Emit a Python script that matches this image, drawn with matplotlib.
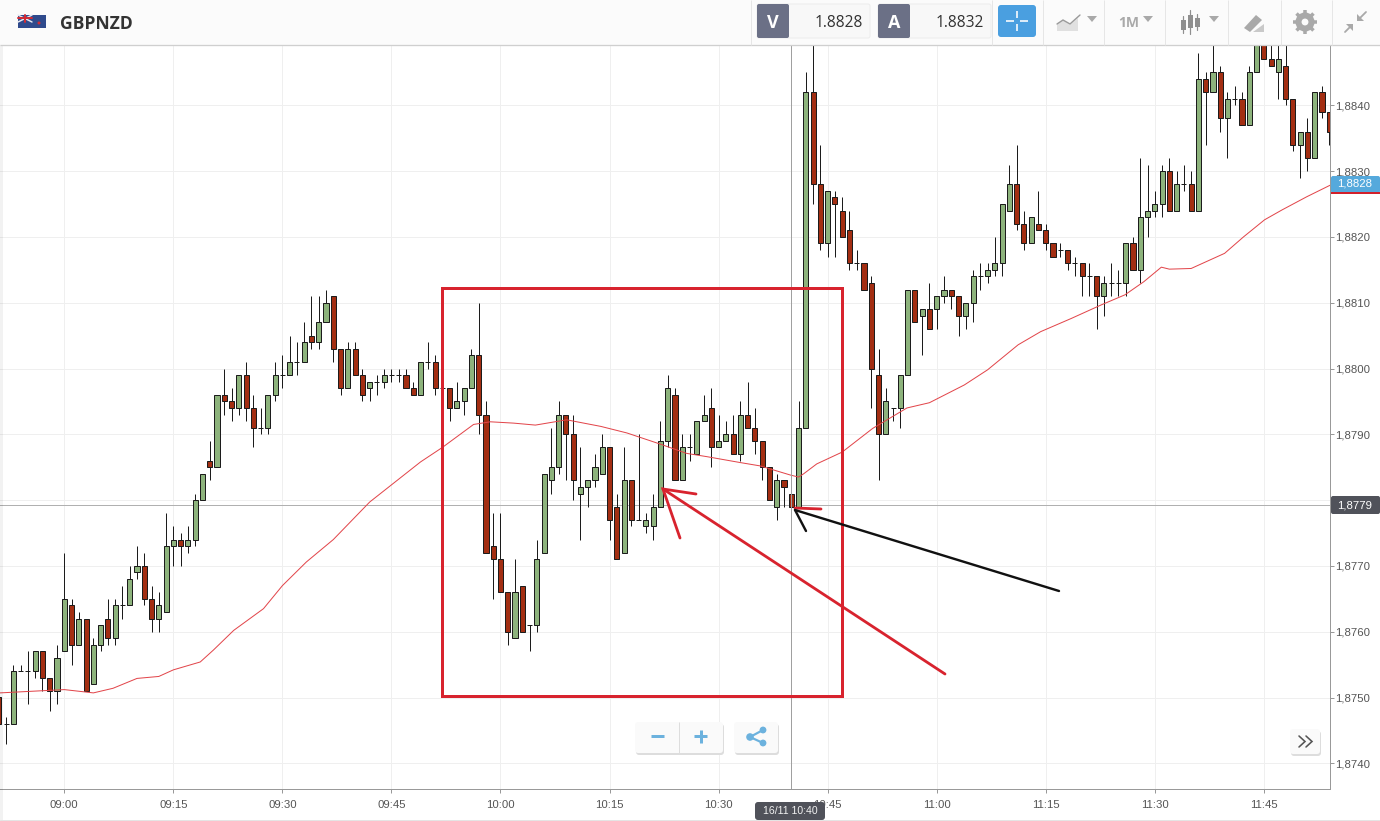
import numpy as np
import matplotlib
matplotlib.use("Agg")
import matplotlib.pyplot as plt
from matplotlib.patches import Rectangle, FancyBboxPatch, Polygon, Circle

# Candles, one per minute. Prices in 1/10000 above 1.0000 (8750 = 1,8750)
first_minute = -9  # minutes after 09:00
opens = [8750,8746,8746,8754,8754,8754,8757,8753,8751,8757,
         8764,8758,8762,8752,8758,8762,8759,8764,8764,8769,
         8770,8765,8762,8763,8773,8774,8773,8774,8780,8786,
         8785,8796,8795,8794,8799,8794,8791,8791,8796,8799,
         8799,8801,8801,8805,8804,8807,8811,8803,8797,8803,
         8799,8797,8798,8798,8799,8799,8799,8797,8796,8801,
         8801,8797,8797,8794,8795,8797,8802,8793,8773,8771,
         8766,8759,8767,8761,8761,8772,8783,8785,8793,8790,
         8781,8782,8783,8784,8788,8779,8772,8783,8777,8776,
         8776,8779,8789,8796,8783,8788,8787,8792,8794,8788,
         8789,8790,8787,8793,8791,8789,8785,8779,8783,8781,
         8779,8791,8842,8828,8819,8826,8824,8821,8816,8816,
         8813,8799,8790,8794,8794,8799,8812,8808,8809,8809,
         8811,8812,8811,8808,8810,8814,8814,8815,8816,8824,
         8828,8822,8819,8822,8821,8819,8818,8818,8816,8816,
         8814,8814,8811,8813,8813,8813,8819,8815,8823,8824,
         8825,8830,8824,8828,8828,8824,8844,8842,8845,8838,
         8841,8841,8837,8845,8851,8847,8845,8846,8841,8834,
         8836,8832,8842,8839]
highs = [8751,8747,8755,8755,8757,8757,8757,8753,8758,8772,
         8765,8763,8762,8759,8761,8765,8765,8767,8770,8773,
         8772,8767,8766,8778,8776,8775,8776,8781,8784,8789,
         8796,8800,8797,8799,8801,8796,8794,8796,8801,8802,
         8805,8804,8807,8811,8811,8812,8811,8803,8804,8804,
         8800,8798,8799,8800,8800,8800,8800,8798,8801,8804,
         8802,8797,8797,8798,8797,8803,8810,8795,8778,8778,
         8766,8771,8767,8761,8774,8784,8791,8795,8793,8793,
         8788,8783,8787,8790,8788,8781,8788,8783,8790,8778,
         8781,8792,8799,8797,8790,8790,8792,8796,8797,8793,
         8792,8793,8795,8798,8794,8789,8785,8784,8783,8781,
         8795,8845,8851,8834,8827,8827,8826,8824,8818,8816,
         8814,8803,8797,8794,8799,8812,8812,8809,8813,8811,
         8814,8812,8811,8810,8815,8816,8816,8820,8825,8831,
         8834,8824,8823,8827,8822,8819,8819,8818,8817,8816,
         8816,8814,8814,8816,8815,8819,8820,8832,8831,8827,
         8831,8832,8830,8831,8830,8848,8845,8850,8846,8842,
         8843,8842,8846,8852,8852,8850,8850,8850,8841,8836,
         8838,8842,8843,8839]
lows = [8745,8743,8746,8754,8749,8753,8751,8748,8749,8757,
        8755,8758,8751,8752,8757,8758,8758,8762,8764,8768,
        8764,8760,8760,8763,8770,8770,8772,8773,8780,8783,
        8785,8793,8792,8793,8792,8788,8790,8790,8795,8797,
        8799,8799,8801,8803,8803,8807,8801,8796,8797,8799,
        8795,8795,8796,8797,8798,8798,8797,8796,8796,8800,
        8796,8797,8792,8794,8793,8797,8790,8772,8765,8766,
        8758,8759,8760,8757,8760,8772,8781,8784,8783,8780,
        8774,8779,8782,8784,8774,8771,8772,8776,8777,8775,
        8774,8779,8788,8783,8783,8786,8787,8792,8785,8788,
        8789,8787,8786,8791,8787,8783,8780,8777,8779,8779,
        8779,8791,8825,8818,8817,8817,8820,8815,8815,8812,
        8794,8783,8790,8792,8791,8799,8807,8802,8806,8806,
        8810,8809,8805,8806,8807,8812,8813,8814,8814,8824,
        8821,8818,8819,8821,8818,8817,8817,8815,8814,8811,
        8811,8806,8808,8811,8811,8811,8815,8813,8820,8823,
        8823,8824,8824,8827,8824,8824,8834,8842,8836,8832,
        8840,8837,8837,8845,8847,8846,8841,8840,8833,8829,
        8830,8832,8838,8834]
closes = [8746,8746,8754,8754,8754,8757,8753,8751,8756,8765,
          8758,8762,8751,8758,8761,8759,8764,8764,8768,8770,
          8765,8762,8764,8773,8774,8773,8774,8780,8784,8785,
          8796,8795,8794,8799,8794,8791,8791,8796,8799,8799,
          8801,8801,8804,8804,8807,8810,8803,8797,8803,8799,
          8796,8798,8798,8799,8799,8799,8797,8796,8801,8801,
          8797,8797,8794,8795,8797,8802,8793,8772,8771,8766,
          8760,8766,8760,8761,8771,8784,8785,8793,8790,8783,
          8782,8783,8785,8788,8777,8771,8783,8777,8777,8777,
          8779,8789,8797,8783,8788,8788,8792,8793,8788,8789,
          8790,8787,8793,8791,8789,8785,8780,8783,8782,8779,
          8791,8842,8828,8819,8827,8825,8820,8816,8816,8812,
          8800,8790,8795,8794,8799,8812,8807,8809,8806,8811,
          8812,8811,8808,8810,8814,8814,8815,8816,8825,8828,
          8822,8819,8823,8821,8819,8817,8818,8816,8816,8814,
          8814,8811,8813,8813,8813,8819,8815,8823,8824,8825,
          8830,8824,8828,8828,8824,8844,8842,8845,8838,8841,
          8841,8837,8845,8851,8847,8846,8847,8841,8834,8836,
          8832,8842,8839,8836]

# Moving average
ma_minutes = [-8.85,0,4,6.7,10,13,15,18.7,20.5,23.3,27.4,30,33.3,37,42,49,52,
              56.3,58.6,61.8,64.8,69.1,73.8,77.4,82,85.6,88.4,93,95.7,99.9,101,
              101.7,103.5,107,111.2,115.9,119,123.8,127,131.2,134.3,138.5,142.7,
              145.9,148.5,150.9,152,155,159.6,162.2,165.1,167.5,170.9,174.2]
ma_values = [8750.7,8751.2,8750.7,8751.4,8752.9,8753.2,8754.2,8755.4,8757.2,8760.2,
             8763.5,8767,8770.6,8774,8779.7,8785.8,8788,8791.5,8791.9,8791.7,8791.4,
             8792.2,8791.2,8790.2,8788.5,8787.1,8786.6,8785.7,8785.2,8783.8,8783.5,
             8784,8785.5,8787.3,8790.9,8794,8794.8,8797.5,8799.8,8803.6,8805.6,8807.6,
             8809.7,8811.2,8813.2,8815.4,8815.1,8815.2,8817.5,8820,8822.6,8824.1,
             8826.1,8827.9]

time_labels = ["09:00","09:15","09:30","09:45","10:00","10:15","10:30","10:45",
               "11:00","11:15","11:30","11:45"]
time_minutes = [0,15,30,45,60,75,90,105,120,135,150,165]
price_ticks = [8740,8750,8760,8770,8780,8790,8800,8810,8820,8830,8840]
symbol = "GBPNZD"
sell_price = "1.8828"
buy_price = "1.8832"
last_label = "1,8828"
cross_price = 8779.3
cross_price_label = "1,8779"
cross_minute = 100
cross_time_label = "16/11 10:40"

W, H = 1380, 821
GREEN, RED, INK = "#8db37c", "#a32e12", "#1c1c1c"
TEXT_FONT = ["Liberation Sans", "DejaVu Sans"]
plt.rcParams["font.family"] = TEXT_FONT

fig = plt.figure(figsize=(W/100, H/100), dpi=100, facecolor="white")
ax = fig.add_axes([0, 1-789/H, 1330/W, (789-45)/H])
px = 0.72

minutes = first_minute + np.arange(len(opens))
o, h, l, c = map(np.array, (opens, highs, lows, closes))
up = c >= o
ax.vlines(minutes, l/1e4+1, h/1e4+1, color=INK, lw=1.0*px, zorder=3)
ax.bar(minutes, np.abs(c-o)/1e4, bottom=np.minimum(o, c)/1e4+1, width=0.7,
       color=np.where(up, GREEN, RED), edgecolor=INK, linewidth=1.0*px, zorder=4)
ax.plot(ma_minutes, np.array(ma_values)/1e4+1, color="#e2454a", lw=1.0*px, zorder=5)

ax.set_xlim(-64.3/7.27, (1330-64.3)/7.27)
ax.set_ylim(1+(8840-(789-105.3)/6.58)/1e4, 1+(8840+(105.3-45)/6.58)/1e4)
ax.set_xticks(time_minutes, time_labels)
ax.set_yticks(np.array(price_ticks)/1e4+1, [f"1,{p}" for p in price_ticks])
ax.yaxis.tick_right()
ax.grid(True, color="#efefef", lw=1*px, zorder=0)
ax.set_axisbelow(True)
ax.tick_params(axis="x", length=3, width=px, color="#999999", labelcolor="#555555", labelsize=8.2, pad=5)
ax.tick_params(axis="y", length=3, width=px, color="#999999", labelcolor="#555555", labelsize=8.2, pad=1)
for s in ("top", "left"):
    ax.spines[s].set_visible(False)
for s in ("right", "bottom"):
    ax.spines[s].set_color("#999999")
    ax.spines[s].set_linewidth(1*px)

# crosshair
ax.axvline(cross_minute, color="#a0a0a0", lw=1*px, zorder=6)
ax.axhline(cross_price/1e4+1, color="#b0b0b0", lw=1*px, zorder=2)

# overlay in picture pixels: toolbar, buttons, tags and hand-drawn marks
ov = fig.add_axes([0, 0, 1, 1], facecolor="none")
ov.set_xlim(0, W); ov.set_ylim(H, 0); ov.axis("off")

def box(x0, y0, x1, y1, fc, ec="none", r=2, lw=0.7, z=10):
    ov.add_patch(FancyBboxPatch((x0+r, y0+r), x1-x0-2*r, y1-y0-2*r,
                 boxstyle=f"round,pad={r},rounding_size={r}", fc=fc, ec=ec, lw=lw, zorder=z))

def seg(pts, color, lw, z=12, cap="round"):
    xs, ys = zip(*pts)
    ov.plot(xs, ys, color=color, lw=lw*px, zorder=z, solid_capstyle=cap, solid_joinstyle="miter")

# left shadow and page bottom
ov.add_patch(Rectangle((0, 45), 3, H-45, fc="black", alpha=0.05, ec="none", zorder=1))
seg([(0, 820), (W, 820)], "#e4e4e4", 1, z=2)

# header
ov.add_patch(Rectangle((0, 0), W, 45, fc="#fbfbfb", ec="none", zorder=9))
seg([(0, 45), (W, 45)], "#cfcfcf", 1.3, z=10, cap="butt")
ov.add_patch(Rectangle((18, 15), 28, 13, fc="#2f4a8c", ec="none", zorder=10))
seg([(18, 15), (32, 22)], "#e8e8f0", 1.5, z=11); seg([(32, 15), (18, 22)], "#e8e8f0", 1.5, z=11)
seg([(25, 15), (25, 22)], "#d02b35", 2, z=12); seg([(18, 18.5), (32, 18.5)], "#d02b35", 2, z=12)
ov.add_patch(Circle((39, 23), 1.5, fc="#d02b35", zorder=11))
ov.text(60, 24, symbol, fontsize=12.6, fontweight="bold", family=["Open Sans", "DejaVu Sans"],
        color="#333333", va="center", ha="left", zorder=12)

for xd in (751, 992, 1043, 1104, 1165, 1228, 1281, 1332):
    seg([(xd, 0), (xd, 45)], "#e6e6e6", 1, z=10, cap="butt")
for x0, x1, letter, value in ((757, 870, "V", sell_price), (878, 991, "A", buy_price)):
    box(x0, 4, x1, 38, "#f8f8f8", "#ececec")
    box(x0, 4, x0+32, 38, "#6b7086", z=11)
    ov.text(x0+16, 23, letter, color="white", fontsize=13, fontweight="bold",
            family=["Open Sans", "DejaVu Sans"], ha="center", va="center", zorder=12)
    ov.text(x1-7, 23, value, color="#333333", fontsize=11.2, family=["Open Sans", "DejaVu Sans"],
            ha="right", va="center", zorder=12)
box(998, 5, 1036, 37, "#4a9fe0", r=3)
for a, b in (((1006, 21), (1014, 21)), ((1020, 21), (1028, 21)), ((1017, 11), (1017, 18)), ((1017, 24), (1017, 31))):
    seg([a, b], "white", 1.6, z=12, cap="butt")

GREY = "#a9a9a9"
# chart type icon
ov.add_patch(Polygon([(1057, 31), (1057, 24), (1063, 20), (1070, 25), (1078, 18), (1078, 31)], fc="#e0e0e0", ec="none", zorder=11))
seg([(1057, 24), (1063, 20), (1070, 24), (1080, 15)], "#9a9a9a", 1.4)
ov.add_patch(Polygon([(1087, 16), (1097, 16), (1092, 22)], fc=GREY, ec="none", zorder=11))
ov.text(1129, 23, "1M", color=GREY, fontsize=10, fontweight="bold", family=["Open Sans", "DejaVu Sans"],
        ha="center", va="center", zorder=12)
ov.add_patch(Polygon([(1143, 16), (1153, 16), (1148, 22)], fc=GREY, ec="none", zorder=11))
# candles icon
for xi, w0, w1, b0, b1 in ((1183, 16, 33, 20, 30), (1190, 10, 34, 15, 28), (1197, 14, 30, 18, 27)):
    seg([(xi, w0), (xi, w1)], "#8f8f8f", 1.2, z=11)
    ov.add_patch(Rectangle((xi-2.5, b0), 5, b1-b0, fc="#8f8f8f", ec="none", zorder=12))
ov.add_patch(Polygon([(1209, 16), (1219, 16), (1214, 22)], fc=GREY, ec="none", zorder=11))
# pencil icon
ov.add_patch(Polygon([(1244, 28), (1256, 15), (1262, 20), (1250, 32)], fc=GREY, ec="none", zorder=11))
ov.add_patch(Polygon([(1253, 32), (1264, 24), (1264, 32)], fc="#c9c9c9", ec="none", zorder=11))
# gear
ov.add_patch(Circle((1305, 22), 6.5, fc="none", ec=GREY, lw=6*px, zorder=11))
for ang in np.arange(0, 360, 45):
    ca, sa = np.cos(np.radians(ang)), np.sin(np.radians(ang))
    seg([(1305+8*ca, 22+8*sa), (1305+12*ca, 22+12*sa)], GREY, 3.5, z=11, cap="butt")
# collapse arrows
seg([(1366, 12), (1358, 20)], GREY, 1.8); ov.add_patch(Polygon([(1357, 14), (1357, 21), (1364, 21)], fc=GREY, zorder=11, ec="none"))
seg([(1345, 32), (1352, 25)], GREY, 1.8); ov.add_patch(Polygon([(1346, 24), (1353, 24), (1353, 31)], fc=GREY, zorder=11, ec="none"))

# zoom / share / more buttons
for x0, y0, x1, y1 in ((635, 722, 723, 753), (734, 722, 778, 753), (1290, 729, 1320, 754)):
    box(x0+1, y0+2, x1+1, y1+2, "#dddddd", r=3, z=8)
    box(x0, y0, x1, y1, "#fafafa", r=3, z=9)
seg([(678.5, 722), (678.5, 753)], "#dddddd", 1, z=10, cap="butt")
BLUE = "#6cb2de"
seg([(651, 736.5), (664, 736.5)], BLUE, 3, z=11, cap="butt")
seg([(694, 736.5), (707, 736.5)], BLUE, 3, z=11, cap="butt")
seg([(700.5, 730), (700.5, 743)], BLUE, 3, z=11, cap="butt")
seg([(763, 730), (750, 737), (763, 743)], BLUE, 2.2, z=11)
for cx, cy, r in ((763, 730, 3.4), (750, 737, 3.8), (763, 743, 3.4)):
    ov.add_patch(Circle((cx, cy), r, fc=BLUE, ec="none", zorder=11))
seg([(1299, 736), (1305, 741.5), (1299, 747)], "#555555", 1.6, z=11)
seg([(1306, 736), (1312, 741.5), (1306, 747)], "#555555", 1.6, z=11)

# price and time tags
box(1331, 176, 1380, 193, "#55a9dc", r=2, z=10)
seg([(1331, 193), (1380, 193)], "#d2202a", 2, z=11, cap="butt")
ov.text(1355, 184, last_label, color="white", fontsize=8.2, ha="center", va="center", zorder=12)
box(1331, 496, 1380, 514, "#50525a", r=2, z=10)
ov.text(1355, 505, cross_price_label, color="white", fontsize=8.2, ha="center", va="center", zorder=12)
box(755, 802, 825, 820, "#50525a", r=3, z=10)
ov.text(790, 811, cross_time_label, color="#f2f2f2", fontsize=7.6, ha="center", va="center", zorder=12)

# hand-drawn annotations
HAND = "#d8232e"
ov.add_patch(Rectangle((441.5, 288.5), 400, 408, fc="none", ec=HAND, lw=3*px, zorder=13))
seg([(945, 674), (663, 489)], HAND, 2.8, z=14)
seg([(696, 494), (663, 489), (680, 538)], HAND, 2.8, z=14)
seg([(795, 508), (821, 509)], HAND, 2.8, z=14)
seg([(1059, 591), (795, 510)], "#111111", 2.4, z=14)
seg([(806, 531), (795, 510)], "#111111", 2.4, z=14)

fig.savefig("out.png", dpi=100, facecolor="white")
